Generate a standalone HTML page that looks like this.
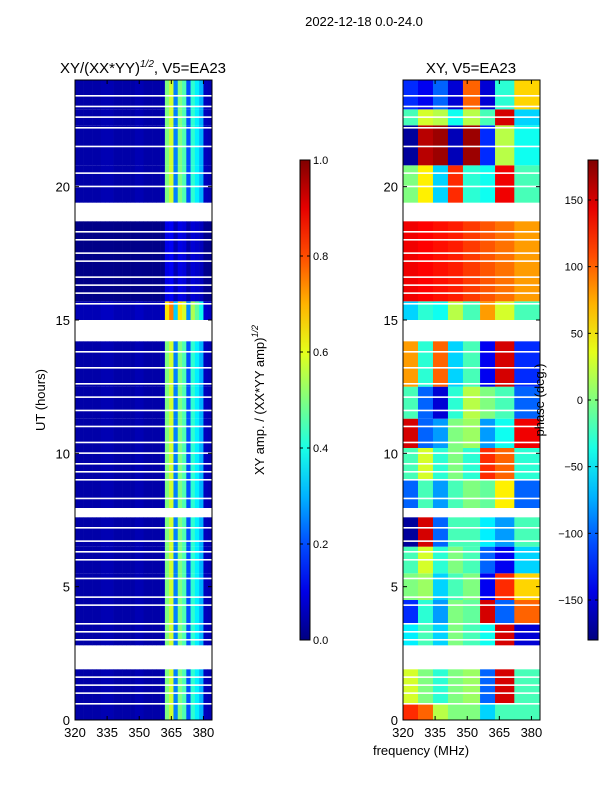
<!DOCTYPE html>
<html><head><meta charset="utf-8">
<style>
body{margin:0;background:#fff;width:600px;height:800px;overflow:hidden;font-family:"Liberation Sans",sans-serif;}
svg text{font-family:"Liberation Sans",sans-serif;fill:#000;}
</style></head>
<body>
<svg id="c" width="600" height="800" xmlns="http://www.w3.org/2000/svg"></svg>
<script>
// ---- data ----
const segStart = [0,0.6,2.8,3.6,4.5,5.5,6.5,7.95,9,10.2,11.3,12.5,15.0,15.7,19.4,20.8,22.3,22.9];
const segEnd   = [0.6,1.9,3.6,4.5,5.5,6.5,7.6,9,10.2,11.3,12.5,14.2,15.7,18.7,20.8,22.3,22.9,24];
const freqEdges = [320,327,334,341,348,356,363,372,384];
const phaseVals = [
 [120,100,20,0,0,-60,-20,-20],
 [30,0,-30,0,10,-100,150,-20],
 [-50,-20,-60,0,-20,-40,150,-150],
 [-120,-30,-80,0,-10,150,-100,100],
 [0,10,-60,-20,0,-140,120,60],
 [-20,30,-30,0,-20,-100,-140,-60],
 [-170,150,-100,-20,-20,-50,-80,-20],
 [-100,-20,-80,-20,0,-10,50,-100],
 [-20,30,-30,0,-30,120,100,-30],
 [150,-100,-80,0,10,-80,-40,140],
 [-20,-100,-150,-30,20,0,-20,-100],
 [80,-30,100,-60,-20,-140,150,-120],
 [-60,-30,-40,20,-20,80,30,-20],
 [140,135,130,125,115,105,95,80],
 [0,50,-60,120,-30,-40,140,-20],
 [-170,160,170,-160,170,-120,20,-40],
 [-20,30,20,-40,20,-20,150,-60],
 [-120,-140,-100,-150,100,-150,-30,60]
];
const ampChanStart = [320,322,324,326,328,330,332,334,336,338,340,342,344,346,348,350,352,354,356,358,360,362,364,366,368,370,372,374,376,378,380,382];
const ampChanVals  = [0.04,0.04,0.04,0.04,0.04,0.04,0.05,0.05,0.05,0.04,0.04,0.04,0.04,0.04,0.05,0.05,0.04,0.04,0.04,0.04,0.05,0.5,0.58,0.25,0.5,0.45,0.2,0.42,0.36,0.3,0.06,0.05];
const ampSegScale  = [1,1,1,1,1,1,1,1,1,1,1,1,1.3,0.2,1,1,1,1];
const blankThin = [0.6,1.0,1.3,1.6,3.0,3.3,3.6,4.3,4.6,5.3,6.0,6.3,6.7,7.2,8.3,9.0,9.3,9.6,10.0,10.4,11.0,11.6,12.1,12.6,13.2,13.8,15.6,16.0,16.3,16.6,17.2,17.5,18.0,18.3,20.0,20.5,21.5,22.2,22.6,23.0,23.4];
const xTicks = [320,335,350,365,380];
const yTicks = [0,5,10,15,20];
const cb1Ticks = [0.0,0.2,0.4,0.6,0.8,1.0];
const cb2Ticks = [-150,-100,-50,0,50,100,150];

// ---- helpers ----
const svg=document.getElementById('c');
const NS='http://www.w3.org/2000/svg';
function mk(t,a,p){const e=document.createElementNS(NS,t);for(const k in a)e.setAttribute(k,a[k]);(p||svg).appendChild(e);return e;}
function jet(v){v=Math.max(0,Math.min(1,v));
 const r=Math.max(0,Math.min(1,Math.min(4*v-1.5,-4*v+4.5)));
 const g=Math.max(0,Math.min(1,Math.min(4*v-0.5,-4*v+3.5)));
 const b=Math.max(0,Math.min(1,Math.min(4*v+0.5,-4*v+2.5)));
 return `rgb(${Math.round(r*255)},${Math.round(g*255)},${Math.round(b*255)})`;}
const Y0=720,Y1=80,PW=137;
function yS(h){return Y0-(h/24)*(Y0-Y1);}
function xS(x0,f){return x0+(f-320)/64*PW;}

function txt(s,x,y,o,name){const t=mk('text',Object.assign({x:x,y:y},o||{}));t.textContent=s;return t;}

txt('2022-12-18 0.0-24.0',364,26,{'font-size':13,'text-anchor':'middle'},'figure-title');

function panel(x0,kind){
 const g=mk('g',{});
 
 
 for(let s=0;s<segStart.length;s++){
  const yA=yS(segEnd[s]),yB=yS(segStart[s]);
  if(kind==='amp'){
   for(let c=0;c<ampChanStart.length;c++){
    const xa=xS(x0,ampChanStart[c]),xb=xS(x0,ampChanStart[c]+2);
    const r=mk('rect',{x:xa,y:yA,width:xb-xa+0.3,height:yB-yA,fill:jet(ampChanVals[c]*ampSegScale[s])},g);
    
    
   }
  } else {
   for(let c=0;c<freqEdges.length-1;c++){
    const xa=xS(x0,freqEdges[c]),xb=xS(x0,freqEdges[c+1]);
    const r=mk('rect',{x:xa,y:yA,width:xb-xa+0.3,height:yB-yA,fill:jet((phaseVals[s][c]+180)/360)},g);
    
    
   }
  }
 }
 for(const h of blankThin){
  const r=mk('rect',{x:x0,y:yS(h)-1,width:PW,height:1.6,fill:'#fff'},g);
  
  
 }
 const fr=mk('rect',{x:x0,y:Y1,width:PW,height:Y0-Y1,fill:'none',stroke:'#000','stroke-width':1});
 
 
 for(const t of xTicks){const x=xS(x0,t);
  mk('line',{x1:x,x2:x,y1:Y0,y2:Y0-4,stroke:'#000'});mk('line',{x1:x,x2:x,y1:Y1,y2:Y1+4,stroke:'#000'});
  txt(String(t),x,737,{'font-size':13,'text-anchor':'middle'},'x-tick-label');}
 for(const t of yTicks){const y=yS(t);
  mk('line',{x1:x0,x2:x0+4,y1:y,y2:y,stroke:'#000'});mk('line',{x1:x0+PW,x2:x0+PW-4,y1:y,y2:y,stroke:'#000'});
  txt(String(t),x0-5,y+5,{'font-size':13,'text-anchor':'end'},'y-tick-label');}
}
panel(75,'amp');
panel(403,'phase');

const t1=txt('',143,73,{'font-size':15,'text-anchor':'middle'},'left-panel-title');
t1.innerHTML='XY/(XX*YY)<tspan dy="-6" font-size="10" font-style="italic">1/2</tspan><tspan dy="6">, V5=EA23</tspan>';
txt('XY, V5=EA23',471,73,{'font-size':15,'text-anchor':'middle'},'right-panel-title');
txt('UT (hours)',45,400,{'font-size':13,'text-anchor':'middle',transform:'rotate(-90 45 400)'},'y-axis-title');
txt('frequency (MHz)',421,755,{'font-size':13,'text-anchor':'middle'},'x-axis-title');

function colorbar(x,ticks,vmin,vmax,name,labelLeft){
 const defs=mk('defs',{});
 const lg=mk('linearGradient',{id:name+'g',x1:0,y1:1,x2:0,y2:0},defs);
 for(let i=0;i<=10;i++)mk('stop',{offset:i/10,'stop-color':jet(i/10)},lg);
 const r=mk('rect',{x:x,y:160,width:10,height:480,fill:`url(#${name}g)`,stroke:'#000','stroke-width':1});
 
 
 for(const t of ticks){const y=640-(t-vmin)/(vmax-vmin)*480;
  mk('line',{x1:x,x2:x+3,y1:y,y2:y,stroke:'#000'});mk('line',{x1:x+10,x2:x+7,y1:y,y2:y,stroke:'#000'});
  const s=vmax===1?t.toFixed(1):(t<0?'\u2212'+(-t):String(t));
  if(labelLeft) txt(s,x-5,y+4,{'font-size':11,'text-anchor':'end'},'colorbar-tick-label');
  else txt(s,x+13,y+4,{'font-size':11},'colorbar-tick-label');}
}
colorbar(300,cb1Ticks,0,1,'amp-colorbar',false);
colorbar(588,cb2Ticks,-180,180,'phase-colorbar',true);
const l1=txt('',264,400,{'font-size':13,'text-anchor':'middle',transform:'rotate(-90 264 400)'},'amp-colorbar-label');
l1.innerHTML='XY amp. / (XX*YY amp)<tspan dy="-6" font-size="9" font-style="italic">1/2</tspan>';
txt('phase (deg.)',544,400,{'font-size':13,'text-anchor':'middle',transform:'rotate(-90 544 400)'},'phase-colorbar-label');
</script>
</body></html>
